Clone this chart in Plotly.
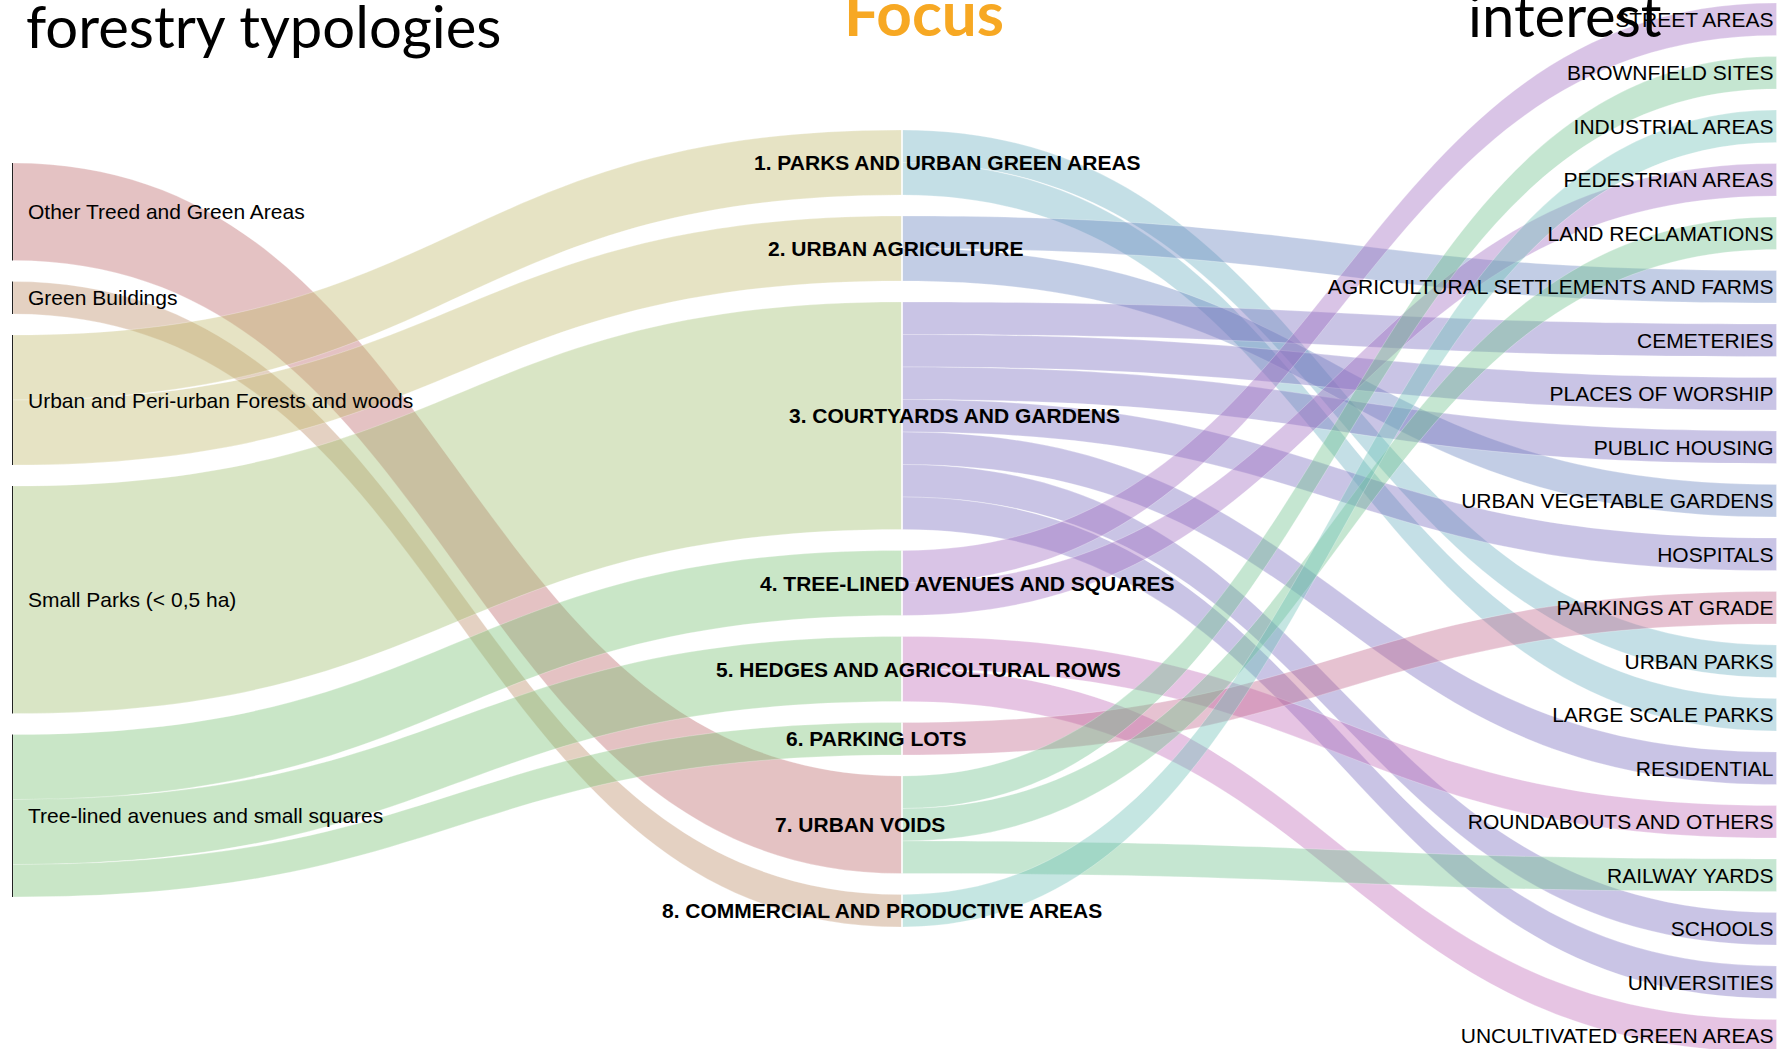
import plotly.graph_objects as go

# colonne del sankey
typologies = ["Other Treed and Green Areas", "Green Buildings",
              "Urban and Peri-urban Forests and woods", "Small Parks (< 0,5 ha)",
              "Tree-lined avenues and small squares"]

focus = ["1. PARKS AND URBAN GREEN AREAS", "2. URBAN AGRICULTURE",
         "3. COURTYARDS AND GARDENS", "4. TREE-LINED AVENUES AND SQUARES",
         "5. HEDGES AND AGRICOLTURAL ROWS", "6. PARKING LOTS",
         "7. URBAN VOIDS", "8. COMMERCIAL AND PRODUCTIVE AREAS"]

interest = ["STREET AREAS", "BROWNFIELD SITES", "INDUSTRIAL AREAS", "PEDESTRIAN AREAS",
            "LAND RECLAMATIONS", "AGRICULTURAL SETTLEMENTS AND FARMS", "CEMETERIES",
            "PLACES OF WORSHIP", "PUBLIC HOUSING", "URBAN VEGETABLE GARDENS", "HOSPITALS",
            "PARKINGS AT GRADE", "URBAN PARKS", "LARGE SCALE PARKS", "RESIDENTIAL",
            "ROUNDABOUTS AND OTHERS", "RAILWAY YARDS", "SCHOOLS", "UNIVERSITIES",
            "UNCULTIVATED GREEN AREAS"]

# typology -> focus
typ_src = ["Other Treed and Green Areas", "Green Buildings",
           "Urban and Peri-urban Forests and woods", "Urban and Peri-urban Forests and woods",
           "Small Parks (< 0,5 ha)",
           "Tree-lined avenues and small squares", "Tree-lined avenues and small squares",
           "Tree-lined avenues and small squares"]
typ_tgt = ["7. URBAN VOIDS", "8. COMMERCIAL AND PRODUCTIVE AREAS",
           "1. PARKS AND URBAN GREEN AREAS", "2. URBAN AGRICULTURE",
           "3. COURTYARDS AND GARDENS",
           "4. TREE-LINED AVENUES AND SQUARES", "5. HEDGES AND AGRICOLTURAL ROWS",
           "6. PARKING LOTS"]
typ_val = [3, 1, 2, 2, 7, 2, 2, 1]

# focus -> areas of interest
foc_src = ["1. PARKS AND URBAN GREEN AREAS"] * 2 + ["2. URBAN AGRICULTURE"] * 2 + \
          ["3. COURTYARDS AND GARDENS"] * 7 + ["4. TREE-LINED AVENUES AND SQUARES"] * 2 + \
          ["5. HEDGES AND AGRICOLTURAL ROWS"] * 2 + ["6. PARKING LOTS"] + \
          ["7. URBAN VOIDS"] * 3 + ["8. COMMERCIAL AND PRODUCTIVE AREAS"]
foc_tgt = ["URBAN PARKS", "LARGE SCALE PARKS",
           "AGRICULTURAL SETTLEMENTS AND FARMS", "URBAN VEGETABLE GARDENS",
           "CEMETERIES", "PLACES OF WORSHIP", "PUBLIC HOUSING", "HOSPITALS",
           "RESIDENTIAL", "SCHOOLS", "UNIVERSITIES",
           "STREET AREAS", "PEDESTRIAN AREAS",
           "ROUNDABOUTS AND OTHERS", "UNCULTIVATED GREEN AREAS",
           "PARKINGS AT GRADE",
           "BROWNFIELD SITES", "LAND RECLAMATIONS", "RAILWAY YARDS",
           "INDUSTRIAL AREAS"]
foc_val = [1] * 20

# colori dei flussi per nodo di partenza
flow_colors = {
    "Other Treed and Green Areas": (188, 103, 105),
    "Green Buildings": (188, 140, 103),
    "Urban and Peri-urban Forests and woods": (193, 185, 108),
    "Small Parks (< 0,5 ha)": (160, 190, 110),
    "Tree-lined avenues and small squares": (120, 193, 115),
    "1. PARKS AND URBAN GREEN AREAS": (108, 175, 193),
    "2. URBAN AGRICULTURE": (103, 130, 190),
    "3. COURTYARDS AND GARDENS": (120, 108, 190),
    "4. TREE-LINED AVENUES AND SQUARES": (160, 108, 193),
    "5. HEDGES AND AGRICOLTURAL ROWS": (193, 108, 185),
    "6. PARKING LOTS": (193, 103, 140),
    "7. URBAN VOIDS": (110, 193, 140),
    "8. COMMERCIAL AND PRODUCTIVE AREAS": (110, 193, 183),
}

# layout
W, H = 1783, 1049
PAD = 21
col_x = [12.5, 902, W - 6]
col_top = [163, 130, 3]
left_label_x = 26
mid_label_shift = [45, -6, 52, 66, 17, -26, -42, -20]

nodes = typologies + focus + interest
idx = {n: i for i, n in enumerate(nodes)}

src = [idx[s] for s in typ_src + foc_src]
tgt = [idx[t] for t in typ_tgt + foc_tgt]
val = typ_val + foc_val
link_col = ["rgba(%d,%d,%d,0.4)" % flow_colors[s] for s in typ_src + foc_src]

# valore totale di ogni nodo
node_val = {}
for s, t, v in zip(typ_src + foc_src, typ_tgt + foc_tgt, val):
    node_val[s] = node_val.get(s, 0) + v
    node_val[t] = node_val.get(t, 0) + v
node_val = {n: (v if n in interest or n in typologies else v / 2) for n, v in node_val.items()}

ky = (H - (len(interest) - 1) * PAD) / sum(typ_val)

node_x, node_y = [], []
centers = {}
for c, col in enumerate([typologies, focus, interest]):
    y = col_top[c]
    for n in col:
        h = node_val[n] * ky
        centers[n] = y + h / 2
        node_x.append(col_x[c] / W)
        node_y.append((y + h / 2) / H)
        y += h + PAD

labels = [""] * len(typologies) + [""] * len(focus) + interest
ncolors = ["#222222"] * len(typologies) + ["#ffffff"] * len(focus) + ["rgba(0,0,0,0)"] * len(interest)

fig = go.Figure(go.Sankey(
    arrangement="fixed",
    domain=dict(x=[0, 1], y=[0, 1]),
    node=dict(label=labels, x=node_x, y=node_y, pad=PAD, thickness=1,
              color=ncolors, line=dict(width=0), customdata=nodes,
              hovertemplate="%{customdata}<extra></extra>"),
    link=dict(source=src, target=tgt, value=val, color=link_col,
              line=dict(width=0.5, color="rgba(255,255,255,0.5)")),
    textfont=dict(family="Liberation Sans, Arial", size=21, color="black", shadow="none"),
))

# etichette a sinistra
for n in typologies:
    fig.add_annotation(x=left_label_x / W, y=1 - centers[n] / H,
                       xref="paper", yref="paper", text=n, showarrow=False,
                       xanchor="left", yanchor="middle",
                       font=dict(family="Liberation Sans, Arial", size=21, color="black"))

# etichette centrali in grassetto
for i, n in enumerate(focus):
    fig.add_annotation(x=(col_x[1] + mid_label_shift[i]) / W, y=1 - centers[n] / H,
                       xref="paper", yref="paper", text="<b>%s</b>" % n, showarrow=False,
                       xanchor="center", yanchor="middle",
                       font=dict(family="Liberation Sans, Arial", size=21, color="black"))

# titoli delle colonne
fig.add_annotation(x=24 / W, y=1 - 47 / H, xref="paper", yref="paper", text="forestry typologies",
                   showarrow=False, xanchor="left", yanchor="bottom", yshift=-15,
                   font=dict(family="Lato", size=58, color="black"))
fig.add_annotation(x=924 / W, y=1 - 35 / H, xref="paper", yref="paper", text="<b>Focus</b>",
                   showarrow=False, xanchor="center", yanchor="bottom", yshift=-16,
                   font=dict(family="Lato", size=62, color="#F7A823"))
fig.add_annotation(x=1466 / W, y=1 - 35 / H, xref="paper", yref="paper", text="interest",
                   showarrow=False, xanchor="left", yanchor="bottom", yshift=-16,
                   font=dict(family="Lato", size=58, color="black"))

fig.update_layout(width=W, height=H, margin=dict(l=0, r=0, t=0, b=0),
                  paper_bgcolor="white", plot_bgcolor="white")

fig.write_html("out.html", config={"displayModeBar": False},
               post_script="document.body.style.margin='0px';")
